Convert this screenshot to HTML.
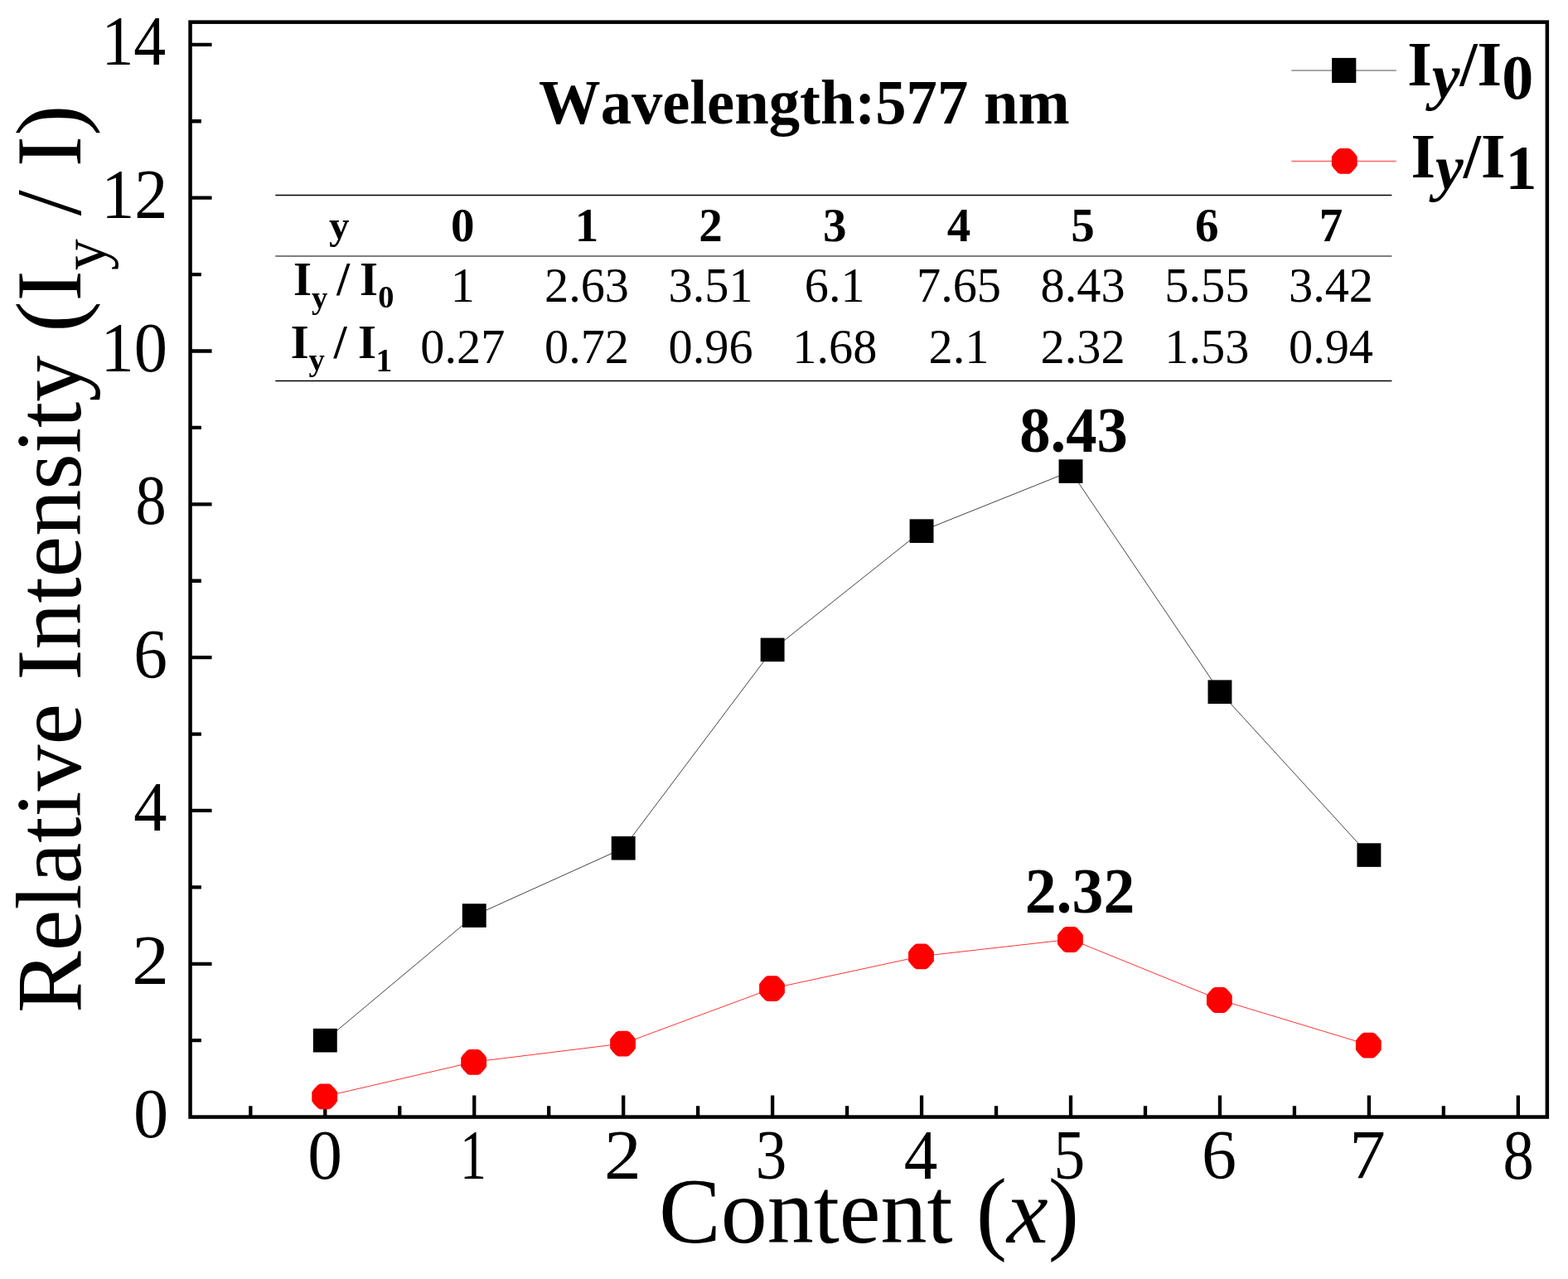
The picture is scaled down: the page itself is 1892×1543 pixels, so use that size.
<!DOCTYPE html>
<html><head><meta charset="utf-8"><title>Relative Intensity vs Content</title>
<style>html,body{margin:0;padding:0;background:#fff;width:1892px;height:1543px;overflow:hidden}svg{display:block}text{font-family:"Liberation Serif","Times New Roman",serif;fill:#000;font-kerning:none;font-feature-settings:"kern" 0,"liga" 0}.b{font-weight:bold}.i{font-style:italic}</style></head><body>
<svg width="1892" height="1543" viewBox="0 0 1892 1543">
<rect width="1892" height="1543" fill="#fff"/>
<rect x="229.55" y="26.65" width="1637.30" height="1320.90" fill="none" stroke="#000" stroke-width="4.5"/>
<path d="M392.30 1347.55V1321.55M572.24 1347.55V1321.55M752.18 1347.55V1321.55M932.12 1347.55V1321.55M1112.06 1347.55V1321.55M1292.00 1347.55V1321.55M1471.94 1347.55V1321.55M1651.88 1347.55V1321.55M1831.82 1347.55V1321.55M302.33 1347.55V1334.25M482.27 1347.55V1334.25M662.21 1347.55V1334.25M842.15 1347.55V1334.25M1022.09 1347.55V1334.25M1202.03 1347.55V1334.25M1381.97 1347.55V1334.25M1561.91 1347.55V1334.25M1741.85 1347.55V1334.25M229.55 1162.78H255.55M229.55 977.96H255.55M229.55 793.14H255.55M229.55 608.32H255.55M229.55 423.50H255.55M229.55 238.68H255.55M229.55 53.86H255.55M229.55 1255.19H242.85M229.55 1070.37H242.85M229.55 885.55H242.85M229.55 700.73H242.85M229.55 515.91H242.85M229.55 331.09H242.85M229.55 146.27H242.85" stroke="#000" stroke-width="4.3" fill="none"/>
<polyline points="392.30,1255.19 572.24,1104.56 752.18,1023.24 932.12,783.90 1112.06,640.66 1292.00,568.58 1471.94,834.72 1651.88,1031.56" fill="none" stroke="#444" stroke-width="1"/>
<polyline points="392.30,1322.65 572.24,1281.06 752.18,1258.89 932.12,1192.35 1112.06,1153.54 1292.00,1133.21 1471.94,1206.21 1651.88,1260.73" fill="none" stroke="#f33" stroke-width="1"/>
<rect x="377.85" y="1240.89" width="28.9" height="28.6" fill="#000"/>
<rect x="557.79" y="1090.26" width="28.9" height="28.6" fill="#000"/>
<rect x="737.73" y="1008.94" width="28.9" height="28.6" fill="#000"/>
<rect x="917.67" y="769.60" width="28.9" height="28.6" fill="#000"/>
<rect x="1097.61" y="626.36" width="28.9" height="28.6" fill="#000"/>
<rect x="1277.55" y="554.28" width="28.9" height="28.6" fill="#000"/>
<rect x="1457.49" y="820.42" width="28.9" height="28.6" fill="#000"/>
<rect x="1637.43" y="1017.26" width="28.9" height="28.6" fill="#000"/>
<path transform="translate(391.70 1322.95)" d="M5.6 -15.4 L8.3 -13.9 L12.9 -9.0 L15.4 -5.4 L15.4 5.4 L12.9 9.0 L8.3 13.9 L5.6 15.4 L-5.6 15.4 L-8.3 13.9 L-12.9 9.0 L-15.4 5.4 L-15.4 -5.4 L-12.9 -9.0 L-8.3 -13.9 L-5.6 -15.4Z" fill="#f00"/>
<path transform="translate(571.64 1281.36)" d="M5.6 -15.4 L8.3 -13.9 L12.9 -9.0 L15.4 -5.4 L15.4 5.4 L12.9 9.0 L8.3 13.9 L5.6 15.4 L-5.6 15.4 L-8.3 13.9 L-12.9 9.0 L-15.4 5.4 L-15.4 -5.4 L-12.9 -9.0 L-8.3 -13.9 L-5.6 -15.4Z" fill="#f00"/>
<path transform="translate(751.58 1259.19)" d="M5.6 -15.4 L8.3 -13.9 L12.9 -9.0 L15.4 -5.4 L15.4 5.4 L12.9 9.0 L8.3 13.9 L5.6 15.4 L-5.6 15.4 L-8.3 13.9 L-12.9 9.0 L-15.4 5.4 L-15.4 -5.4 L-12.9 -9.0 L-8.3 -13.9 L-5.6 -15.4Z" fill="#f00"/>
<path transform="translate(931.52 1192.65)" d="M5.6 -15.4 L8.3 -13.9 L12.9 -9.0 L15.4 -5.4 L15.4 5.4 L12.9 9.0 L8.3 13.9 L5.6 15.4 L-5.6 15.4 L-8.3 13.9 L-12.9 9.0 L-15.4 5.4 L-15.4 -5.4 L-12.9 -9.0 L-8.3 -13.9 L-5.6 -15.4Z" fill="#f00"/>
<path transform="translate(1111.46 1153.84)" d="M5.6 -15.4 L8.3 -13.9 L12.9 -9.0 L15.4 -5.4 L15.4 5.4 L12.9 9.0 L8.3 13.9 L5.6 15.4 L-5.6 15.4 L-8.3 13.9 L-12.9 9.0 L-15.4 5.4 L-15.4 -5.4 L-12.9 -9.0 L-8.3 -13.9 L-5.6 -15.4Z" fill="#f00"/>
<path transform="translate(1291.40 1133.51)" d="M5.6 -15.4 L8.3 -13.9 L12.9 -9.0 L15.4 -5.4 L15.4 5.4 L12.9 9.0 L8.3 13.9 L5.6 15.4 L-5.6 15.4 L-8.3 13.9 L-12.9 9.0 L-15.4 5.4 L-15.4 -5.4 L-12.9 -9.0 L-8.3 -13.9 L-5.6 -15.4Z" fill="#f00"/>
<path transform="translate(1471.34 1206.51)" d="M5.6 -15.4 L8.3 -13.9 L12.9 -9.0 L15.4 -5.4 L15.4 5.4 L12.9 9.0 L8.3 13.9 L5.6 15.4 L-5.6 15.4 L-8.3 13.9 L-12.9 9.0 L-15.4 5.4 L-15.4 -5.4 L-12.9 -9.0 L-8.3 -13.9 L-5.6 -15.4Z" fill="#f00"/>
<path transform="translate(1651.28 1261.03)" d="M5.6 -15.4 L8.3 -13.9 L12.9 -9.0 L15.4 -5.4 L15.4 5.4 L12.9 9.0 L8.3 13.9 L5.6 15.4 L-5.6 15.4 L-8.3 13.9 L-12.9 9.0 L-15.4 5.4 L-15.4 -5.4 L-12.9 -9.0 L-8.3 -13.9 L-5.6 -15.4Z" fill="#f00"/>
<g font-size="84">
<text transform="translate(371.32 1422.20) scale(0.994 1)">0</text>
<text transform="translate(554.98 1422.20) scale(0.761 1)">1</text>
<text transform="translate(728.96 1422.20) scale(1.066 1)">2</text>
<text transform="translate(911.71 1422.20) scale(0.893 1)">3</text>
<text transform="translate(1090.72 1422.20) scale(0.966 1)">4</text>
<text transform="translate(1271.52 1422.20) scale(0.898 1)">5</text>
<text transform="translate(1449.89 1422.20) scale(1.000 1)">6</text>
<text transform="translate(1628.26 1422.20) scale(1.037 1)">7</text>
<text transform="translate(1813.46 1422.20) scale(0.888 1)">8</text>
<text transform="translate(160.88 1371.90) scale(1.006 1)">0</text>
<text transform="translate(159.28 1187.38) scale(1.063 1)">2</text>
<text transform="translate(161.23 1001.76) scale(0.958 1)">4</text>
<text transform="translate(161.30 817.74) scale(0.970 1)">6</text>
<text transform="translate(163.47 632.02) scale(0.885 1)">8</text>
<text transform="translate(121.52 447.60) scale(0.959 1)">10</text>
<text transform="translate(122.25 262.98) scale(0.954 1)">12</text>
<text transform="translate(122.41 77.96) scale(0.926 1)">14</text>
</g>
<text transform="translate(97.0 1222) rotate(-90)" font-size="112">Relative Intensity (I<tspan font-size="76" dy="30.3">y</tspan><tspan dy="-30.3"> / I)</tspan></text>
<text x="795" y="1498.5" font-size="112">Content (<tspan class="i">x</tspan>)</text>
<text class="b" transform="translate(650 149) scale(0.977 1)" font-size="76.4">Wavelength:577 nm</text>
<text class="b" transform="translate(1295.5 544.7) scale(0.965 1)" font-size="77.3" text-anchor="middle">8.43</text>
<text class="b" transform="translate(1303 1100.6) scale(0.977 1)" font-size="77.5" text-anchor="middle">2.32</text>
<path d="M1558.3 85H1684.8" stroke="#8a8a8a" stroke-width="1.5"/>
<rect x="1607.1" y="69.9" width="29.2" height="30.1" fill="#000"/>
<path d="M1558.3 194.4H1684.8" stroke="#ff6666" stroke-width="1.5"/>
<path transform="translate(1622.25 194.35)" d="M5.6 -15.4 L8.3 -13.9 L12.9 -9.0 L15.4 -5.4 L15.4 5.4 L12.9 9.0 L8.3 13.9 L5.6 15.4 L-5.6 15.4 L-8.3 13.9 L-12.9 9.0 L-15.4 5.4 L-15.4 -5.4 L-12.9 -9.0 L-8.3 -13.9 L-5.6 -15.4Z" fill="#f00"/>
<text class="b" font-size="76" x="1698.2" y="102.5">I<tspan class="i" dy="15">y</tspan><tspan dy="-15">/I</tspan><tspan dy="16.3">0</tspan></text>
<text class="b" font-size="76" x="1702.5" y="213.6">I<tspan class="i" dy="14">y</tspan><tspan dy="-14">/I</tspan><tspan dy="14.4">1</tspan></text>
<path d="M332.3 235.5H1679.4" stroke="#000" stroke-width="1.3"/>
<path d="M332.3 309H1679.4" stroke="#555" stroke-width="1.7"/>
<path d="M332.3 459.5H1679.4" stroke="#000" stroke-width="1.3"/>
<text class="b" x="409.3" y="287.7" font-size="49" text-anchor="middle">y</text>
<g class="b" font-size="57" text-anchor="middle">
<text x="558.3" y="290.7">0</text>
<text x="708.0" y="290.7">1</text>
<text x="857.6" y="290.7">2</text>
<text x="1007.3" y="290.7">3</text>
<text x="1157.0" y="290.7">4</text>
<text x="1306.6" y="290.7">5</text>
<text x="1456.3" y="290.7">6</text>
<text x="1606.0" y="290.7">7</text>
</g>
<g font-size="58.3" text-anchor="middle">
<text x="558.3" y="363.7">1</text>
<text x="708.0" y="363.7">2.63</text>
<text x="857.6" y="363.7">3.51</text>
<text x="1007.3" y="363.7">6.1</text>
<text x="1157.0" y="363.7">7.65</text>
<text x="1306.6" y="363.7">8.43</text>
<text x="1456.3" y="363.7">5.55</text>
<text x="1606.0" y="363.7">3.42</text>
<text x="558.3" y="438.4">0.27</text>
<text x="708.0" y="438.4">0.72</text>
<text x="857.6" y="438.4">0.96</text>
<text x="1007.3" y="438.4">1.68</text>
<text x="1157.0" y="438.4">2.1</text>
<text x="1306.6" y="438.4">2.32</text>
<text x="1456.3" y="438.4">1.53</text>
<text x="1606.0" y="438.4">0.94</text>
</g>
<g class="b">
<text font-size="56.5" x="354.05" y="355.9">I</text><text font-size="38.8" x="376.0" y="371.5">y</text><text font-size="56.5" x="406.25" y="355.9">/</text><text font-size="56.5" x="434.1" y="355.9">I</text><text font-size="38.4" x="456.3" y="371.3">0</text>
<text font-size="56.5" x="350.7" y="431.8">I</text><text font-size="38.8" x="372.5" y="447">y</text><text font-size="56.5" x="402.75" y="431.8">/</text><text font-size="56.5" x="432.1" y="431.8">I</text><text font-size="39.5" x="453.4" y="447.9">1</text>
</g>
</svg></body></html>
